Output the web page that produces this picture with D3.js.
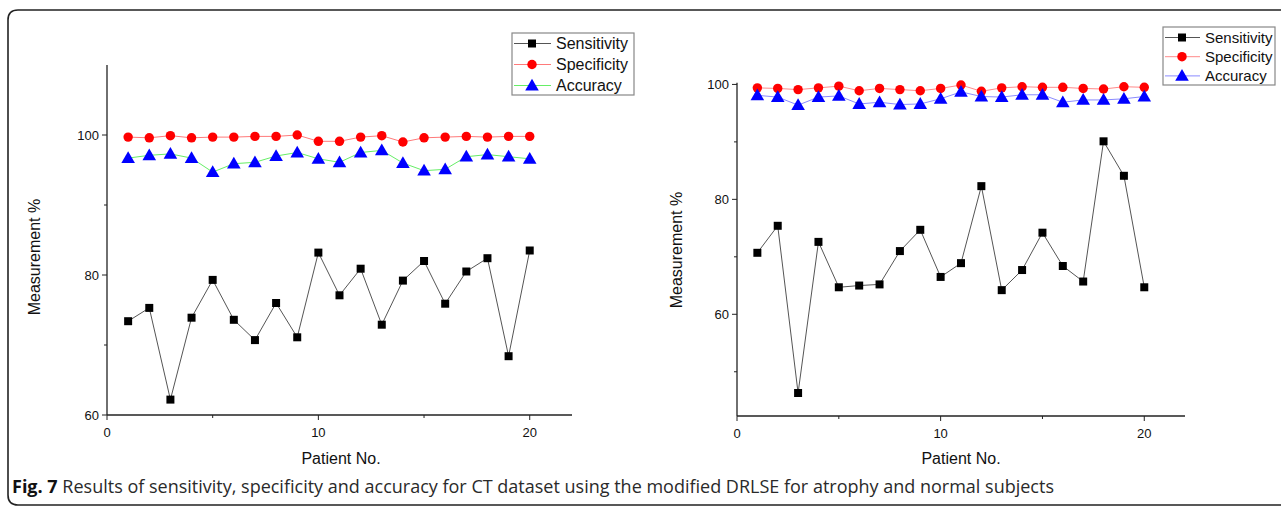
<!DOCTYPE html>
<html lang="en">
<head>
    <meta charset="UTF-8">
    <title>Fig. 7</title>
    <script src="https://cdnjs.cloudflare.com/ajax/libs/d3/7.8.5/d3.min.js"></script>
    <style>
        body { margin: 0; background: #fff; }
        svg text { font-family: "Liberation Sans", Arial, sans-serif; fill: #111; }
    </style>
</head>
<body>
    <svg id="chart" width="1281" height="508"></svg>

    <script>
        // Patient numbers (x values)
        var patients = d3.range(1, 21);

        // Left panel (atrophy)
        var leftSensitivity = [73.4, 75.3, 62.2, 73.9, 79.3, 73.6, 70.7, 76.0, 71.1, 83.2,
                               77.1, 80.9, 72.9, 79.2, 82.0, 75.9, 80.5, 82.4, 68.4, 83.5];
        var leftSpecificity = [99.7, 99.6, 99.9, 99.6, 99.7, 99.7, 99.8, 99.8, 100.0, 99.1,
                               99.1, 99.7, 99.9, 99.0, 99.6, 99.7, 99.8, 99.7, 99.8, 99.8];
        var leftAccuracy    = [96.7, 97.1, 97.3, 96.7, 94.7, 95.9, 96.1, 97.0, 97.5, 96.6,
                               96.1, 97.5, 97.8, 96.0, 94.9, 95.1, 96.9, 97.2, 96.9, 96.6];

        // Right panel (normal)
        var rightSensitivity = [70.7, 75.4, 46.3, 72.6, 64.7, 65.0, 65.2, 71.0, 74.7, 66.5,
                                68.9, 82.3, 64.2, 67.7, 74.2, 68.4, 65.7, 90.1, 84.1, 64.7];
        var rightSpecificity = [99.4, 99.3, 99.1, 99.4, 99.7, 98.9, 99.3, 99.1, 98.9, 99.3,
                                99.9, 98.8, 99.4, 99.6, 99.5, 99.5, 99.3, 99.2, 99.6, 99.5];
        var rightAccuracy    = [98.1, 97.8, 96.4, 97.8, 98.0, 96.6, 96.9, 96.5, 96.6, 97.5,
                                98.7, 97.9, 97.8, 98.2, 98.2, 96.9, 97.3, 97.3, 97.5, 97.9];

        var seriesNames = ['Sensitivity', 'Specificity', 'Accuracy'];
        var xMajorTicks = [0, 10, 20];
        var xMinorTicks = [5, 15];
        var leftYMajor = [60, 80, 100];
        var leftYMinor = [70, 90];
        var rightYMajor = [60, 80, 100];
        var rightYMinor = [50, 70, 90];

        var caption = 'Results of sensitivity, specificity and accuracy for CT dataset using the modified DRLSE for atrophy and normal subjects';

        var svg = d3.select('#chart');

        // Rounded frame, open on the right side
        svg.append('path')
            .attr('d', 'M1290,10 H18 Q8,10 8,20 V495 Q8,505 18,505 H1290')
            .attr('fill', 'none')
            .attr('stroke', '#222')
            .attr('stroke-width', 1.6);

        var panels = [
            {
                x: d3.scaleLinear().domain([0, 22]).range([107, 572]),
                y: d3.scaleLinear().domain([60, 110]).range([415, 65]),
                yMajor: leftYMajor, yMinor: leftYMinor,
                data: [leftSensitivity, leftSpecificity, leftAccuracy],
                lineColors: ['#555', '#ff7a7a', '#66ee66'],
                legend: { x: 512, y: 33, w: 122, h: 62, row: 21, font: 16, mx: 20, tx: 44 },
                yTitle: { x: 40, y: 257 }, xTitle: { x: 341, y: 464 }
            },
            {
                x: d3.scaleLinear().domain([0, 22]).range([737, 1185]),
                y: d3.scaleLinear().domain([42.3, 100.3]).range([416, 82.7]),
                yMajor: rightYMajor, yMinor: rightYMinor,
                data: [rightSensitivity, rightSpecificity, rightAccuracy],
                lineColors: ['#555', '#ff8a8a', '#8a8aff'],
                legend: { x: 1163, y: 27, w: 112, h: 58, row: 19.2, font: 15, mx: 19, tx: 42 },
                yTitle: { x: 682, y: 250 }, xTitle: { x: 961, y: 464 }
            }
        ];

        var markerColors = ['#000', '#f00', '#00f'];
        var symbols = [d3.symbolSquare, d3.symbolCircle, d3.symbolTriangle];
        var symbolSizes = [64, 70, 80];

        function drawMarker(g, i, cx, cy) {
            g.append('path')
                .attr('d', d3.symbol().type(symbols[i]).size(symbolSizes[i])())
                .attr('transform', 'translate(' + cx + ',' + (cy + (i === 2 ? 1 : 0)) + ')')
                .attr('fill', markerColors[i]);
        }

        panels.forEach(function (p) {
            var g = svg.append('g');
            var x0 = p.x.range()[0], x1 = p.x.range()[1];
            var y0 = p.y.range()[0], y1 = p.y.range()[1];

            // Axis lines
            g.append('line').attr('x1', x0).attr('x2', x0).attr('y1', y0).attr('y2', y1)
                .attr('stroke', '#222').attr('stroke-width', 1.3);
            g.append('line').attr('x1', x0).attr('x2', x1).attr('y1', y0).attr('y2', y0)
                .attr('stroke', '#222').attr('stroke-width', 1.3);

            // X ticks
            xMajorTicks.forEach(function (t) {
                g.append('line').attr('x1', p.x(t)).attr('x2', p.x(t)).attr('y1', y0).attr('y2', y0 + 5)
                    .attr('stroke', '#222');
                g.append('text').attr('x', p.x(t)).attr('y', y0 + 22)
                    .attr('text-anchor', 'middle').attr('font-size', 13).text(t);
            });
            xMinorTicks.forEach(function (t) {
                g.append('line').attr('x1', p.x(t)).attr('x2', p.x(t)).attr('y1', y0).attr('y2', y0 + 3)
                    .attr('stroke', '#222');
            });

            // Y ticks
            p.yMajor.forEach(function (t) {
                g.append('line').attr('x1', x0 - 5).attr('x2', x0).attr('y1', p.y(t)).attr('y2', p.y(t))
                    .attr('stroke', '#222');
                g.append('text').attr('x', x0 - 8).attr('y', p.y(t) + 5)
                    .attr('text-anchor', 'end').attr('font-size', 13).text(t);
            });
            p.yMinor.forEach(function (t) {
                g.append('line').attr('x1', x0 - 3).attr('x2', x0).attr('y1', p.y(t)).attr('y2', p.y(t))
                    .attr('stroke', '#222');
            });

            // Axis titles
            g.append('text').attr('x', p.xTitle.x).attr('y', p.xTitle.y)
                .attr('text-anchor', 'middle').attr('font-size', 16).text('Patient No.');
            g.append('text')
                .attr('transform', 'translate(' + p.yTitle.x + ',' + p.yTitle.y + ') rotate(-90)')
                .attr('text-anchor', 'middle').attr('font-size', 16).text('Measurement %');

            // Series
            p.data.forEach(function (values, i) {
                var line = d3.line()
                    .x(function (d, k) { return p.x(patients[k]); })
                    .y(function (d) { return p.y(d); });
                g.append('path').datum(values)
                    .attr('d', line)
                    .attr('fill', 'none')
                    .attr('stroke', p.lineColors[i])
                    .attr('stroke-width', 1);
                values.forEach(function (v, k) {
                    drawMarker(g, i, p.x(patients[k]), p.y(v));
                });
            });

            // Legend
            var L = p.legend;
            var lg = g.append('g').attr('transform', 'translate(' + L.x + ',' + L.y + ')');
            lg.append('rect').attr('width', L.w).attr('height', L.h)
                .attr('fill', '#fff').attr('stroke', '#888').attr('stroke-width', 1.2);
            seriesNames.forEach(function (name, i) {
                var cy = 10.5 + i * L.row;
                lg.append('line').attr('x1', 2).attr('x2', L.mx * 2 - 1).attr('y1', cy).attr('y2', cy)
                    .attr('stroke', p.lineColors[i]).attr('stroke-width', 1);
                drawMarker(lg, i, L.mx, cy);
                lg.append('text').attr('x', L.tx).attr('y', cy + 5.5)
                    .attr('font-size', L.font).text(name);
            });
        });

        // Caption
        var cap = svg.append('text')
            .attr('x', 12).attr('y', 493)
            .style('font-family', '"Open Sans", "Noto Sans", sans-serif')
            .attr('font-size', 18);
        cap.append('tspan').attr('font-weight', 'bold').text('Fig. 7');
        cap.append('tspan').attr('fill', '#2a2a2a').text(' ' + caption);
    </script>
</body>
</html>
